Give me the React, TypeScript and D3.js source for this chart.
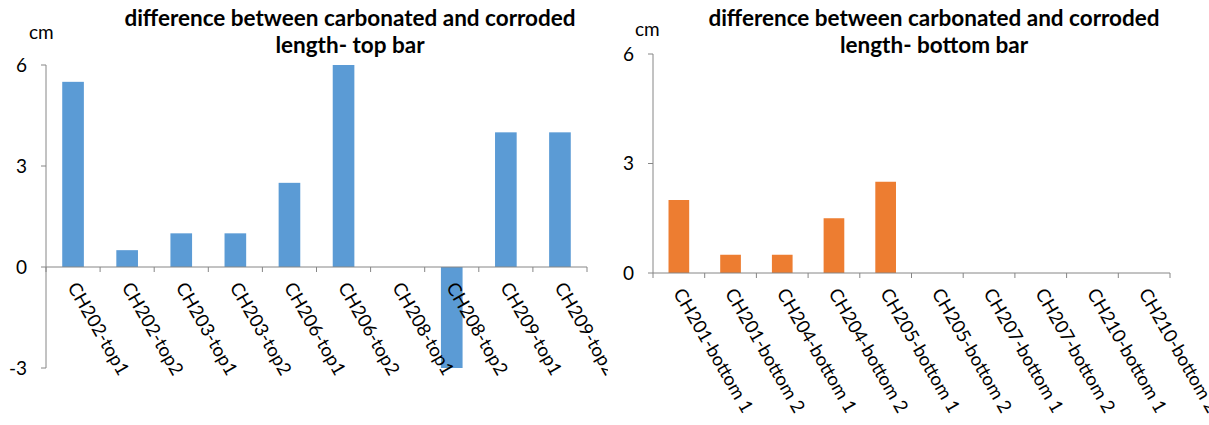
import React from "react";
import * as d3 from "d3";

const topCategories = [
  "CH202-top1", "CH202-top2", "CH203-top1", "CH203-top2", "CH206-top1",
  "CH206-top2", "CH208-top1", "CH208-top2", "CH209-top1", "CH209-top2",
];
const topValues = [5.5, 0.5, 1, 1, 2.5, 6, 0, -3, 4, 4];
const topTicks = [-3, 0, 3, 6];

const bottomCategories = [
  "CH201-bottom 1", "CH201-bottom 2", "CH204-bottom 1", "CH204-bottom 2", "CH205-bottom 1",
  "CH205-bottom 2", "CH207-bottom 1", "CH207-bottom 2", "CH210-bottom 1", "CH210-bottom 2",
];
const bottomValues = [2, 0.5, 0.5, 1.5, 2.5, 0, 0, 0, 0, 0];
const bottomTicks = [0, 3, 6];

const FONT = "Lato, 'Open Sans', sans-serif";
const AXIS = "#868686";

type PanelProps = {
  id: string;
  categories: string[];
  values: number[];
  ticks: number[];
  domain: [number, number];
  x0: number; x1: number; yTop: number; yBottom: number;
  color: string;
  title: string[];
  titleX: number;
  cmX: number; cmY: number;
  clipW: number;
};

function Panel(p: PanelProps) {
  const x = d3.scaleBand<string>().domain(p.categories).range([p.x0, p.x1]).paddingInner(0.6).paddingOuter(0.3);
  const xb = d3.scaleBand<string>().domain(p.categories).range([p.x0, p.x1]).padding(0);
  const y = d3.scaleLinear().domain(p.domain).range([p.yBottom, p.yTop]);
  const y0 = y(0);
  const boundaries = p.categories.map((c) => xb(c) as number).concat([p.x1]);
  return (
    <g>
      <defs>
        <clipPath id={p.id}>
          <rect x={p.x0 - 60} y={0} width={p.clipW} height={425} />
        </clipPath>
      </defs>
      <g clipPath={`url(#${p.id})`}>
        {p.title.map((t, i) => (
          <text key={i} x={p.titleX} y={26 + i * 27} textAnchor="middle" fontFamily={FONT} fontWeight="bold" fontSize={22.5} fill="#000">{t}</text>
        ))}
        <text x={p.cmX} y={p.cmY} fontFamily={FONT} fontSize={19} fill="#000">cm</text>
        {p.values.map((v, i) => (
          <rect key={i} x={x(p.categories[i])} width={x.bandwidth()} y={Math.min(y(v), y0)} height={Math.abs(y(v) - y0)} fill={p.color} />
        ))}
        <line x1={p.x0} x2={p.x0} y1={y(p.domain[1])} y2={y(p.domain[0])} stroke={AXIS} />
        {p.ticks.map((t) => (
          <g key={t}>
            <line x1={p.x0 - 5} x2={p.x0} y1={y(t)} y2={y(t)} stroke={AXIS} />
            <text x={p.x0 - 19} y={y(t)} dy="0.36em" textAnchor="end" fontFamily={FONT} fontSize={19} fill="#000">{t}</text>
          </g>
        ))}
        <line x1={p.x0} x2={p.x1} y1={y0} y2={y0} stroke={AXIS} />
        {boundaries.map((b, i) => (
          <line key={i} x1={b} x2={b} y1={y0} y2={y0 + 5} stroke={AXIS} />
        ))}
        {p.categories.map((c) => {
          const cx = (xb(c) as number) + xb.bandwidth() / 2;
          return (
            <text key={c} transform={`translate(${cx - 6},${y0 + 20}) rotate(60)`} fontFamily={FONT} fontSize={18.5} fill="#000">{c}</text>
          );
        })}
      </g>
    </g>
  );
}

export default function App() {
  return (
    <svg width={1209} height={425} style={{ position: "absolute", left: 0, top: 0, background: "#fff" }}>
      <rect width={1209} height={425} fill="#fff" />
      <Panel
        id="clipL" categories={topCategories} values={topValues} ticks={topTicks}
        domain={[-3, 6]} x0={46} x1={587} yTop={65} yBottom={368}
        color="#5B9BD5" title={["difference between carbonated and corroded", "length- top bar"]}
        titleX={350} cmX={29} cmY={39} clipW={622}
      />
      <Panel
        id="clipR" categories={bottomCategories} values={bottomValues} ticks={bottomTicks}
        domain={[0, 6]} x0={653} x1={1170} yTop={54} yBottom={273}
        color="#ED7D31" title={["difference between carbonated and corroded", "length- bottom bar"]}
        titleX={934} cmX={635} cmY={36} clipW={620}
      />
    </svg>
  );
}
